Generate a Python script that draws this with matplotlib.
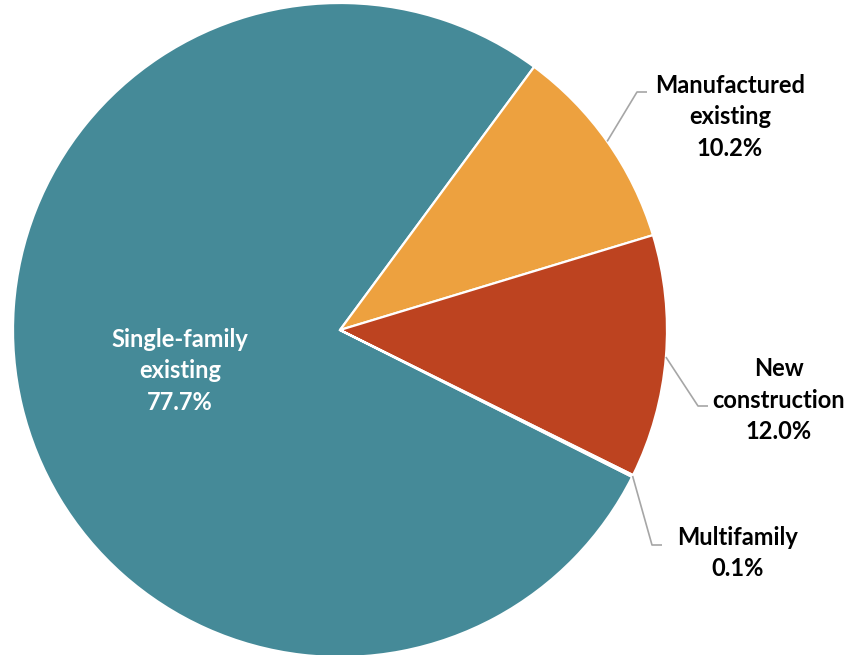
import matplotlib.pyplot as plt
import numpy as np

# share of sales by home type
labels = ['Single-family\nexisting', 'Manufactured\nexisting', 'New\nconstruction', 'Multifamily']
shares = [77.7, 10.2, 12.0, 0.1]
colors = ['#458A98', '#EDA13F', '#BD4320', '#3F8794']

W, H = 854, 655
fig = plt.figure(figsize=(W / 100, H / 100), dpi=100)
ax = fig.add_axes([0, 0, 1, 1])

cx, cy, r = 340, H - 330, 327
start = -26.7
wedges, _ = ax.pie(shares, colors=colors, startangle=start, counterclock=False,
                   center=(cx, cy), radius=r, frame=True,
                   wedgeprops=dict(edgecolor='white', linewidth=1.6))
ax.set_xlim(0, W)
ax.set_ylim(0, H)
ax.set_aspect('equal')
ax.axis('off')

font = dict(family=['Lato', 'DejaVu Sans'], fontweight='bold', fontsize=17,
            ha='center', va='center', linespacing=1.45)

# inside label for the big slice
ax.text(180, H - 371, f'{labels[0]}\n{shares[0]:.1f}%', color='white', **font)

# outside labels with leader lines: (elbow x, elbow y, text x, text y)
outside = {1: (637, 92, 730, 117), 2: (698, 406, 779, 400), 3: (652, 545, 738, 553)}
for i, (ex, ey, tx, ty) in outside.items():
    w = wedges[i]
    mid = np.deg2rad((w.theta1 + w.theta2) / 2)
    px, py = cx + r * np.cos(mid), cy + r * np.sin(mid)
    ax.plot([px, ex, ex + 10], [py, H - ey, H - ey], color='#A6A6A6', lw=1.2,
            solid_capstyle='butt')
    ax.text(tx, H - ty, f'{labels[i]}\n{shares[i]:.1f}%', color='black', **font)

fig.savefig('out.png', dpi=100)
